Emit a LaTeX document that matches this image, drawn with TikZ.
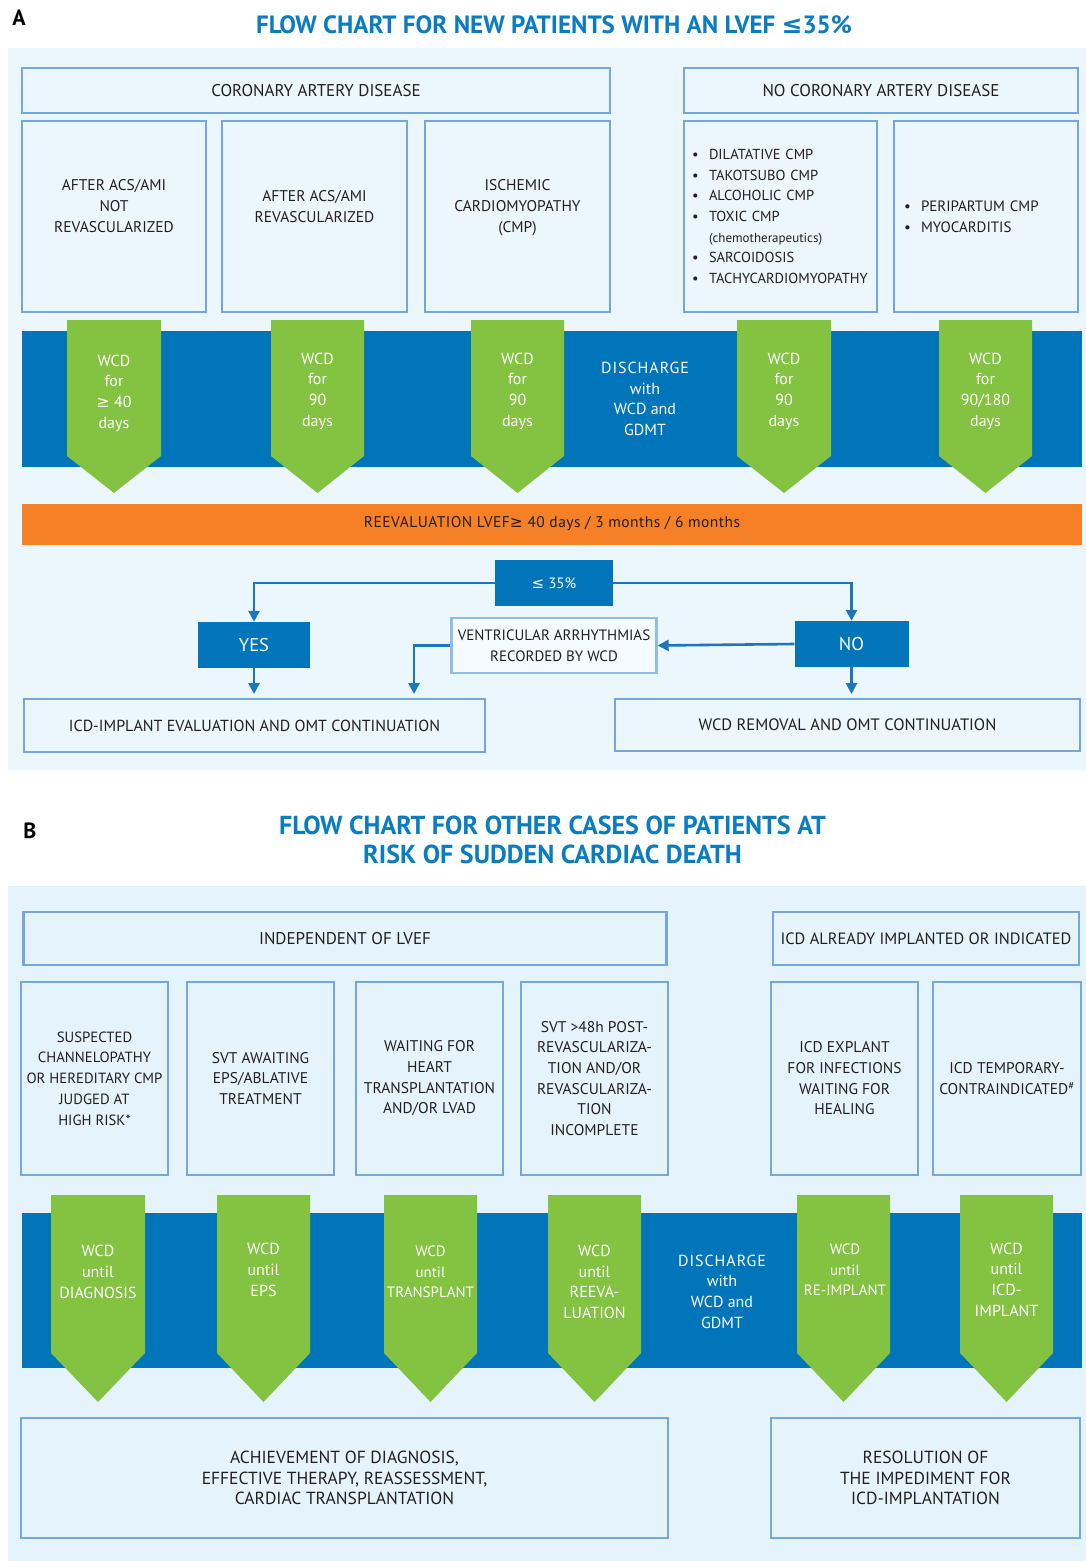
\documentclass[tikz,border=0pt]{standalone}
\usepackage{fontspec}
\setmainfont{PT Sans}
\newfontfamily\symf{DejaVu Sans}
\usetikzlibrary{arrows.meta}
\definecolor{bgA}{HTML}{EBF6FD}
\definecolor{bgB}{HTML}{E5F4FC}
\definecolor{boxline}{HTML}{76A6DA}
\definecolor{bandblue}{HTML}{0075B9}
\definecolor{wcdgreen}{HTML}{84C341}
\definecolor{reorange}{HTML}{F58026}
\definecolor{titleblue}{HTML}{0A7CC1}
\definecolor{txt}{HTML}{231F20}
\definecolor{arrowblue}{HTML}{1C76BC}
\definecolor{ventline}{HTML}{93BCE4}
\newcommand\wcdarrow[5]{\fill[wcdgreen] (#1,#3) -- (#2,#3) -- (#2,#4) -- ({(#1+#2)/2},#5) -- (#1,#4) -- cycle;}
\newcommand\bul{\makebox[17pt][l]{•}}
\newcommand\fsz[1]{\fontsize{#1}{20.7}\selectfont}
\begin{document}
\begin{tikzpicture}[x=1pt,y=-1pt,
  body/.style={font=\fsz{15.5}, text=txt, align=center},
  box/.style={body, draw=boxline, line width=2.6pt, inner sep=0pt},
  hbox/.style={box, font=\fsz{17}},
  wtxt/.style={font=\fsz{16}, text=white, align=center},
  bandbox/.style={fill=bandblue, inner sep=0pt},
  dec/.style={fill=bandblue, text=white, inner sep=0pt, font=\fsz{18.5}},
  title/.style={font=\bfseries\fontsize{25}{29}\selectfont, text=titleblue, align=center},
  plabel/.style={font=\bfseries\fontsize{22}{22}\selectfont, text=black},
  arr/.style={draw=arrowblue, line width=2.6pt, -{Triangle[length=11pt,width=11pt]}}
]
\useasboundingbox (0,0) rectangle (1086,1561);
\fill[white] (0,0) rectangle (1086,1561);
% ================= PANEL A =================
\fill[bgA] (8,48) rectangle (1086,770);
\node[plabel] (labA) at (19,18) {A};
\node[title] (titA) at (554,25) {FLOW CHART FOR NEW PATIENTS WITH AN LVEF {\symf\bfseries ≤}35\%};

\node[hbox, minimum width=588, minimum height=45] (cad) at (316,90.5) {CORONARY ARTERY DISEASE};
\node[hbox, minimum width=394, minimum height=45] (nocad) at (881,90.5) {NO CORONARY ARTERY DISEASE};

\node[box, minimum width=184, minimum height=191] (a1) at (114,216.5) {AFTER ACS/AMI\\NOT\\REVASCULARIZED\\~};
\node[box, minimum width=185, minimum height=191] (a2) at (314.5,216.5) {AFTER ACS/AMI\\REVASCULARIZED\\~};
\node[box, minimum width=185, minimum height=191] (a3) at (517.5,216.5) {ISCHEMIC\\CARDIOMYOPATHY\\(CMP)\\~};
\node[box, font=\fsz{14.5}, minimum width=193, minimum height=191, align=left, text width=177pt, inner xsep=8pt] (a4) at (780.5,216.5)
  {\bul DILATATIVE CMP\\
   \bul TAKOTSUBO CMP\\
   \bul ALCOHOLIC CMP\\
   \bul TOXIC CMP\\
   \hspace*{17pt}{\fsz{13}(chemotherapeutics)}\\
   \bul SARCOIDOSIS\\
   \bul TACHYCARDIOMYOPATHY};
\node[box, font=\fsz{15}, minimum width=184, minimum height=191, align=left, text width=164pt, inner xsep=10pt] (a5) at (986,216.5)
  {\bul PERIPARTUM CMP\\
   \bul MYOCARDITIS};

\node[bandbox, minimum width=1060, minimum height=136] (bandA) at (552,399) {};
\wcdarrow{67}{161}{320}{456}{493}
\wcdarrow{271}{364}{320}{456}{493}
\wcdarrow{471}{564}{320}{456}{493}
\wcdarrow{737}{831}{320}{456}{493}
\wcdarrow{939}{1032}{320}{456}{493}
\node[wtxt] (gA1) at (114,393) {WCD\\for\\{\symf ≥} 40\\days};
\node[wtxt] (gA2) at (317.5,391) {WCD\\for\\90\\days};
\node[wtxt] (gA3) at (517.5,391) {WCD\\for\\90\\days};
\node[wtxt] (disA) at (645,399) {{\addfontfeatures{LetterSpace=6}DISCHARGE}\\with\\WCD and\\GDMT};
\node[wtxt] (gA4) at (784,391) {WCD\\for\\90\\days};
\node[wtxt] (gA5) at (985.5,391) {WCD\\for\\90/180\\days};

\node[fill=reorange, minimum width=1060, minimum height=41, inner sep=0pt, text=txt,
      font=\fsz{15.5}\addfontfeatures{LetterSpace=3}] (reeval) at (552,524)
  {REEVALUATION LVEF{\symf ≥} 40 days / 3 months / 6 months};

\node[dec, font=\fsz{15}, minimum width=118, minimum height=46] (le) at (554,583) {{\symf ≤} 35\%};
\node[dec, minimum width=112, minimum height=46] (yes) at (254,645) {YES};
\node[dec, minimum width=114, minimum height=46] (no) at (851.5,644) {NO};
\node[body, font=\fsz{15}, draw=ventline, line width=2.4pt, fill=bgA!50!white, inner sep=0pt, minimum width=205, minimum height=55] (vent) at (554,645.5)
  {VENTRICULAR ARRHYTHMIAS\\RECORDED BY WCD};
\node[hbox, font=\fsz{16}, minimum width=461, minimum height=53] (icd) at (254.5,725.5) {ICD-IMPLANT EVALUATION AND OMT CONTINUATION};
\node[hbox, font=\fsz{16.5}, minimum width=465, minimum height=52] (rem) at (847.5,725) {WCD REMOVAL AND OMT CONTINUATION};
\coordinate (icdin) at (414,694);

\draw[arr] (le.west) -| (yes.north);
\draw[arr] (le.east) -| (no.north);
\draw[arr] (no.west) -- (vent.east);
\draw[arr] (vent.west) -| (icdin);
\draw[arr] (yes.south) -- (yes.south |- icdin);
\draw[arr] (no.south) -- (no.south |- icdin);

% ================= PANEL B =================
\fill[bgB] (8,886) rectangle (1086,1561);
\node[plabel] (labB) at (30,831) {B};
\node[title, font=\bfseries\fontsize{26}{29}\selectfont] (titB) at (552.5,839.5) {FLOW CHART FOR OTHER CASES OF PATIENTS AT\\RISK OF SUDDEN CARDIAC DEATH};

\node[hbox, minimum width=643, minimum height=53] (indep) at (345,938.5) {INDEPENDENT OF LVEF};
\node[hbox, font=\fsz{16.4}, minimum width=306, minimum height=53] (icdal) at (926,938.5) {ICD ALREADY IMPLANTED OR INDICATED};

\node[box, font=\fsz{14.8}, minimum width=147, minimum height=193] (b1) at (94.5,1078.5) {SUSPECTED\\CHANNELOPATHY\\OR HEREDITARY CMP\\JUDGED AT\\HIGH RISK*};
\node[box, minimum width=147, minimum height=193] (b2) at (260.5,1078.5) {SVT AWAITING\\EPS/ABLATIVE\\TREATMENT};
\node[box, minimum width=147, minimum height=193] (b3) at (429.5,1078.5) {WAITING FOR\\HEART\\TRANSPLANTATION\\AND/OR LVAD};
\node[box, minimum width=147, minimum height=193] (b4) at (594.5,1078.5) {SVT >48h POST-\\REVASCULARIZA-\\TION AND/OR\\REVASCULARIZA-\\TION\\INCOMPLETE};
\node[box, minimum width=147, minimum height=193] (b5) at (844.5,1078.5) {ICD EXPLANT\\FOR INFECTIONS\\WAITING FOR\\HEALING};
\node[box, minimum width=148, minimum height=193] (b6) at (1007,1078.5) {ICD TEMPORARY-\\CONTRAINDICATED\textsuperscript{\#}};

\node[bandbox, minimum width=1060, minimum height=155] (bandB) at (552,1290.5) {};
\wcdarrow{51}{145}{1195}{1353}{1402}
\wcdarrow{217}{310}{1195}{1353}{1402}
\wcdarrow{384}{477}{1195}{1353}{1402}
\wcdarrow{548}{641}{1195}{1353}{1402}
\wcdarrow{797}{890}{1195}{1353}{1402}
\wcdarrow{960}{1053}{1195}{1353}{1402}
\node[wtxt] (gB1) at (98,1272) {WCD\\until\\DIAGNOSIS};
\node[wtxt] (gB2) at (263.5,1270) {WCD\\until\\EPS};
\node[wtxt, font=\fsz{15}] (gB3) at (430.5,1272) {WCD\\until\\TRANSPLANT};
\node[wtxt] (gB4) at (594.5,1282) {WCD\\until\\REEVA-\\LUATION};
\node[wtxt] (disB) at (722,1291.5) {{\addfontfeatures{LetterSpace=6}DISCHARGE}\\with\\WCD and\\GDMT};
\node[wtxt, font=\fsz{15}] (gB5) at (845,1270) {WCD\\until\\RE-IMPLANT};
\node[wtxt] (gB6) at (1006.5,1279.5) {WCD\\until\\ICD-\\IMPLANT};

\node[box, font=\fsz{17.5}, minimum width=647, minimum height=120] (ach) at (344.5,1478) {ACHIEVEMENT OF DIAGNOSIS,\\EFFECTIVE THERAPY, REASSESSMENT,\\CARDIAC TRANSPLANTATION};
\node[box, font=\fsz{17.5}, minimum width=309, minimum height=120] (res) at (925.5,1478) {RESOLUTION OF\\THE IMPEDIMENT FOR\\ICD-IMPLANTATION};
\end{tikzpicture}
\end{document}
